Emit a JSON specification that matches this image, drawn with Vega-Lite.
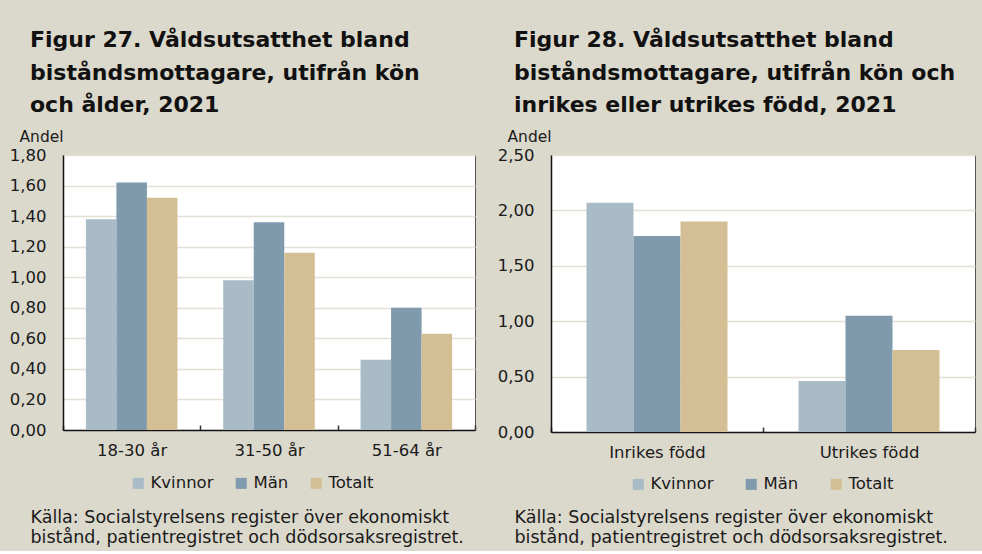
{
  "$schema": "https://vega.github.io/schema/vega-lite/v6.json",
  "background": "#dbd8cc",
  "padding": {"left": 8, "top": 28, "right": 7, "bottom": 5},
  "spacing": 19,
  "config": {
    "locale": {"number": {"decimal": ",", "thousands": " ", "grouping": [3], "currency": ["", " kr"]}},
    "font": "DejaVu Sans",
    "view": {"fill": "white", "stroke": "#555555", "strokeWidth": 1},
    "axis": {"labelColor": "#1a1a1a", "titleColor": "#1a1a1a", "labelFont": "DejaVu Sans", "titleFont": "DejaVu Sans"},
    "legend": {"labelColor": "#1a1a1a"},
    "title": {"color": "#111111"}
  },
  "datasets": {
    "fig27": [
      {"grupp": "18-30 år", "kon": "Kvinnor", "andel": 1.38},
      {"grupp": "18-30 år", "kon": "Män", "andel": 1.62},
      {"grupp": "18-30 år", "kon": "Totalt", "andel": 1.52},
      {"grupp": "31-50 år", "kon": "Kvinnor", "andel": 0.98},
      {"grupp": "31-50 år", "kon": "Män", "andel": 1.36},
      {"grupp": "31-50 år", "kon": "Totalt", "andel": 1.16},
      {"grupp": "51-64 år", "kon": "Kvinnor", "andel": 0.46},
      {"grupp": "51-64 år", "kon": "Män", "andel": 0.80},
      {"grupp": "51-64 år", "kon": "Totalt", "andel": 0.63}
    ],
    "fig28": [
      {"grupp": "Inrikes född", "kon": "Kvinnor", "andel": 2.07},
      {"grupp": "Inrikes född", "kon": "Män", "andel": 1.77},
      {"grupp": "Inrikes född", "kon": "Totalt", "andel": 1.90},
      {"grupp": "Utrikes född", "kon": "Kvinnor", "andel": 0.46},
      {"grupp": "Utrikes född", "kon": "Män", "andel": 1.05},
      {"grupp": "Utrikes född", "kon": "Totalt", "andel": 0.74}
    ]
  },
  "hconcat": [
    {
      "data": {"name": "fig27"},
      "width": 412,
      "height": 275,
      "title": {
        "text": ["Figur 27. Våldsutsatthet bland", "biståndsmottagare, utifrån kön", "och ålder, 2021"],
        "anchor": "start", "frame": "group", "dx": -33, "fontSize": 22, "fontWeight": "bold", "lineHeight": 32.5, "offset": 12
      },
      "mark": {"type": "bar"},
      "encoding": {
        "x": {
          "field": "grupp", "type": "nominal", "sort": null,
          "scale": {"paddingInner": 0, "paddingOuter": 0},
          "axis": {
            "labelAngle": 0, "labelFontSize": 16.5, "labelPadding": 17, "tickBand": "extent", "tickSize": -5, "tickColor": "#333", "tickWidth": 1.5,
            "domainColor": "#111", "domainWidth": 1.5,
            "title": ["Källa: Socialstyrelsens register över ekonomiskt", "bistånd, patientregistret och dödsorsaksregistret."],
            "titleFontSize": 17.5, "titleFontWeight": "normal", "titleAnchor": "start", "titleAlign": "left", "titleBaseline": "top",
            "titleX": -33, "titleY": 78, "titleLineHeight": 20
          }
        },
        "xOffset": {"field": "kon", "type": "nominal", "sort": ["Kvinnor", "Män", "Totalt"], "scale": {"paddingInner": 0, "paddingOuter": 0.75}},
        "y": {
          "field": "andel", "type": "quantitative",
          "scale": {"domain": [0, 1.8], "nice": false},
          "axis": {
            "values": [0, 0.2, 0.4, 0.6, 0.8, 1.0, 1.2, 1.4, 1.6, 1.8], "format": ".2f",
            "ticks": false, "labelPadding": 17, "labelFontSize": 16.5,
            "domainColor": "#111", "domainWidth": 1.5,
            "gridColor": "#e3e0d6", "gridWidth": 1.5,
            "title": "Andel", "titleAngle": 0, "titleFontSize": 15.5, "titleFontWeight": "normal", "titleAlign": "left", "titleBaseline": "alphabetic", "titleX": -44, "titleY": -14
          }
        },
        "color": {
          "field": "kon", "type": "nominal",
          "scale": {"domain": ["Kvinnor", "Män", "Totalt"], "range": ["#a8bbc7", "#7f9aac", "#d4bf95"]},
          "legend": {
            "title": null, "orient": "none", "direction": "horizontal", "legendX": 67, "legendY": 320,
            "symbolType": "square", "symbolSize": 121, "symbolStrokeWidth": 0, "labelFontSize": 16.5, "labelOffset": 4, "columnPadding": 19
          }
        }
      }
    },
    {
      "data": {"name": "fig28"},
      "width": 424,
      "height": 277,
      "title": {
        "text": ["Figur 28. Våldsutsatthet bland", "biståndsmottagare, utifrån kön och", "inrikes eller utrikes född, 2021"],
        "anchor": "start", "frame": "group", "dx": -37, "fontSize": 22, "fontWeight": "bold", "lineHeight": 32.5, "offset": 12
      },
      "mark": {"type": "bar"},
      "encoding": {
        "x": {
          "field": "grupp", "type": "nominal", "sort": null,
          "scale": {"paddingInner": 0, "paddingOuter": 0},
          "axis": {
            "labelAngle": 0, "labelFontSize": 16.5, "labelPadding": 17, "tickBand": "extent", "tickSize": -5, "tickColor": "#333", "tickWidth": 1.5,
            "domainColor": "#111", "domainWidth": 1.5,
            "title": ["Källa: Socialstyrelsens register över ekonomiskt", "bistånd, patientregistret och dödsorsaksregistret."],
            "titleFontSize": 17.5, "titleFontWeight": "normal", "titleAnchor": "start", "titleAlign": "left", "titleBaseline": "top",
            "titleX": -37, "titleY": 76, "titleLineHeight": 20
          }
        },
        "xOffset": {"field": "kon", "type": "nominal", "sort": ["Kvinnor", "Män", "Totalt"], "scale": {"paddingInner": 0, "paddingOuter": 0.755}},
        "y": {
          "field": "andel", "type": "quantitative",
          "scale": {"domain": [0, 2.5], "nice": false},
          "axis": {
            "values": [0, 0.5, 1.0, 1.5, 2.0, 2.5], "format": ".2f",
            "ticks": false, "labelPadding": 17, "labelFontSize": 16.5,
            "domainColor": "#111", "domainWidth": 1.5,
            "gridColor": "#e3e0d6", "gridWidth": 1.5,
            "title": "Andel", "titleAngle": 0, "titleFontSize": 15.5, "titleFontWeight": "normal", "titleAlign": "left", "titleBaseline": "alphabetic", "titleX": -44, "titleY": -14
          }
        },
        "color": {
          "field": "kon", "type": "nominal",
          "scale": {"domain": ["Kvinnor", "Män", "Totalt"], "range": ["#a8bbc7", "#7f9aac", "#d4bf95"]},
          "legend": {
            "title": null, "orient": "none", "direction": "horizontal", "legendX": 79, "legendY": 321,
            "symbolType": "square", "symbolSize": 121, "symbolStrokeWidth": 0, "labelFontSize": 16.5, "labelOffset": 4, "columnPadding": 29
          }
        }
      }
    }
  ],
  "resolve": {"scale": {"color": "independent", "x": "independent", "y": "independent", "xOffset": "independent"}}
}
